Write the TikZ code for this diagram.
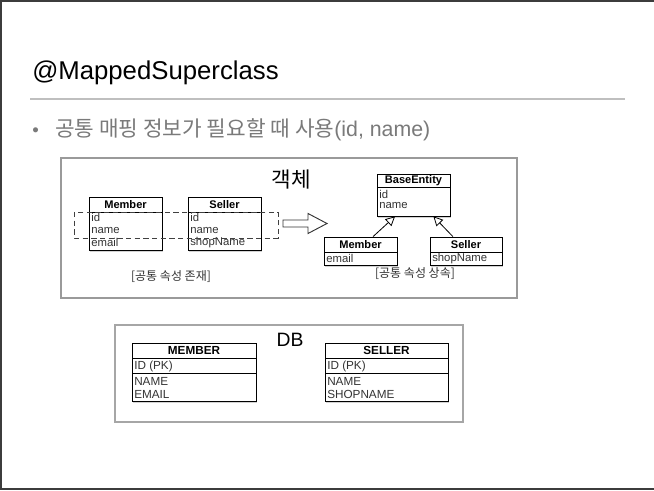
\documentclass[tikz,border=0pt]{standalone}
\usepackage{fontspec}
\setmainfont{Liberation Sans}
\newfontfamily\kr{Noto Sans CJK KR}
\usetikzlibrary{arrows.meta,shadows,calc}
\definecolor{frame}{HTML}{3C3C3C}
\definecolor{bulletgray}{HTML}{7A7A7A}
\definecolor{boxgray}{HTML}{9A9A9A}
\tikzset{
  umlbox/.style={draw=black, line width=0.6pt, fill=white, inner sep=0pt,
    drop shadow={opacity=0.35, shadow xshift=1pt, shadow yshift=-1.2pt}},
  sep/.style={line width=0.6pt},
  hdr/.style={font=\bfseries\fontsize{8.3}{9}\selectfont, inner sep=0pt},
  row/.style={font=\fontsize{8.5}{9}\selectfont, text=black!80, inner sep=0pt, anchor=west},
  dbhdr/.style={font=\bfseries\fontsize{8.8}{9}\selectfont, inner sep=0pt},
  dbrow/.style={font=\fontsize{8.8}{9}\selectfont, text=black!80, inner sep=0pt, anchor=west},
  panel/.style={draw=boxgray, line width=1.5pt},
  caption/.style={font=\kr\fontsize{9}{10}\selectfont, text=black!80, inner sep=0pt},
  inherit/.style={draw=black, line width=0.6pt, -{Triangle[open, length=7pt, width=7pt, fill=white]}},
}
\begin{document}
\begin{tikzpicture}[x=0.75pt,y=-0.75pt]
\useasboundingbox (0,0) rectangle (654,491);
\fill[white] (0,0) rectangle (654,491);
% slide frame
\draw[frame, line width=1.5pt] (654,0.75) -- (0.75,0.75) -- (0.75,489.5) -- (654,489.5);
% title
\node[anchor=base west, inner sep=0pt, font=\fontsize{19.3}{21}\selectfont] (title) at (32,80) {@MappedSuperclass};
\draw[black!25, line width=1.2pt] (30,99) -- (625,99);
\node[anchor=base west, inner sep=0pt, text=bulletgray, font=\fontsize{14}{16}\selectfont] (bul) at (32,137) {•};
\node[anchor=base west, inner sep=0pt, text=bulletgray, font=\kr\fontsize{16}{18}\selectfont] (sub) at (55,137) {공통 매핑 정보가 필요할 때 사용\fontspec{Liberation Sans}(id, name)};
% object panel
\node[panel, minimum width=456*0.75pt, minimum height=140*0.75pt, inner sep=0pt] (objpanel) at (289,228) {};
\node[font=\kr\fontsize{16}{18}\selectfont, inner sep=0pt] (objtitle) at (291,180) {객체};
% left Member
\node[umlbox, minimum width=73*0.75pt, minimum height=53*0.75pt] (lm) at (125.5,223.5) {};
\draw[sep] (89,212) -- (162,212);
\node[hdr] (lmh) at (125.5,204.5) {Member};
\node[row] (lm1) at (91,217.5) {id};
\node[row] (lm2) at (91,230.5) {name};
\node[row] (lm3) at (91,242.5) {email};
% left Seller
\node[umlbox, minimum width=73*0.75pt, minimum height=53*0.75pt] (ls) at (224.5,223.5) {};
\draw[sep] (188,212) -- (261,212);
\node[hdr] (lsh) at (224.5,204.5) {Seller};
\node[row] (ls1) at (190,217.5) {id};
\node[row] (ls2) at (190,230.5) {name};
\node[row] (ls3) at (190,242.5) {shopName};
% dashed group
\draw[black!75, line width=0.7pt, dash pattern=on 4pt off 2.5pt] (74,212) rectangle (278,238);
\node[caption] (cap1) at (171,277) {[공통 속성 존재]};
% hollow arrow
\draw[black!80, line width=0.7pt, fill=white] (283,220) -- (308,220) -- (308,213.5) -- (327,223.5) -- (308,233.5) -- (308,227) -- (283,227) -- cycle;
% BaseEntity
\node[umlbox, minimum width=73*0.75pt, minimum height=42*0.75pt] (be) at (413.5,195) {};
\draw[sep] (377,187) -- (450,187);
\node[hdr] (beh) at (413.5,180.5) {BaseEntity};
\node[row] (be1) at (379,194) {id};
\node[row] (be2) at (379,206) {name};
% right Member
\node[umlbox, minimum width=73*0.75pt, minimum height=28*0.75pt] (rm) at (360.5,251) {};
\draw[sep] (324,252) -- (397,252);
\node[hdr] (rmh) at (360.5,244.5) {Member};
\node[row] (rm1) at (326,258.5) {email};
% right Seller
\node[umlbox, minimum width=72*0.75pt, minimum height=28*0.75pt] (rs) at (466,251) {};
\draw[sep] (430,252) -- (502,252);
\node[hdr] (rsh) at (466,244.5) {Seller};
\node[row] (rs1) at (432,258.5) {shopName};
% inheritance
\draw[inherit] ($(rm.north west)!0.67!(rm.north east)$) -- ($(be.south west)!0.25!(be.south east)$);
\draw[inherit] ($(rs.north west)!0.32!(rs.north east)$) -- ($(be.south west)!0.77!(be.south east)$);
\node[caption] (cap2) at (415,273.5) {[공통 속성 상속]};
% DB panel
\node[panel, draw=black!35, minimum width=348*0.75pt, minimum height=97*0.75pt, inner sep=0pt] (dbpanel) at (289,373.5) {};
\node[font=\fontsize{14.5}{16}\selectfont, inner sep=0pt] (dbtitle) at (290,340) {DB};
% MEMBER table
\node[umlbox, minimum width=124*0.75pt, minimum height=58*0.75pt] (tm) at (194,372) {};
\draw[sep] (132,358) -- (256,358);
\draw[sep] (132,373) -- (256,373);
\node[dbhdr] (tmh) at (194,350.5) {MEMBER};
\node[dbrow] (tm1) at (134,366) {ID (PK)};
\node[dbrow] (tm2) at (134,381) {NAME};
\node[dbrow] (tm3) at (134,394) {EMAIL};
% SELLER table
\node[umlbox, minimum width=123*0.75pt, minimum height=58*0.75pt] (ts) at (386.5,372) {};
\draw[sep] (325,358) -- (448,358);
\draw[sep] (325,373) -- (448,373);
\node[dbhdr] (tsh) at (386.5,350.5) {SELLER};
\node[dbrow] (ts1) at (327,366) {ID (PK)};
\node[dbrow] (ts2) at (327,381) {NAME};
\node[dbrow] (ts3) at (327,394) {SHOPNAME};
\end{tikzpicture}
\end{document}
